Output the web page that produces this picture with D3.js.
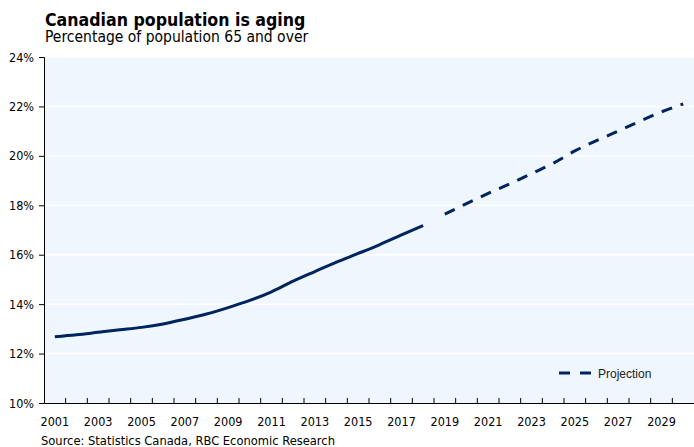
<!DOCTYPE html>
<html>
<head>
<meta charset="utf-8">
<script src="https://cdn.jsdelivr.net/npm/d3@7"></script>
<style>
  body { margin: 0; background: #fff; }
  svg { display: block; }
  text { font-family: "DejaVu Sans Condensed", "DejaVu Sans", sans-serif; font-stretch: condensed; fill: #000; }
</style>
</head>
<body>
<svg id="chart" width="694" height="447"></svg>
<script>
// history (share of population 65+, %)
const histYears = [2001, 2002, 2003, 2004, 2005, 2006, 2007, 2008, 2009, 2010,
                   2011, 2012, 2013, 2014, 2015, 2016, 2017, 2018];
const histValues = [12.68, 12.76, 12.86, 12.96, 13.06, 13.2, 13.39, 13.6, 13.86, 14.15,
                    14.5, 14.93, 15.32, 15.7, 16.05, 16.41, 16.8, 17.18];

// projection
const projYears = [2019, 2020, 2021, 2022, 2023, 2024, 2025, 2026, 2027, 2028, 2029, 2030];
const projValues = [17.64, 18.07, 18.48, 18.87, 19.28, 19.7, 20.2, 20.62, 21.0, 21.4, 21.78, 22.1];

const allYears = d3.range(2001, 2031);
const yTicks = [10, 12, 14, 16, 18, 20, 22, 24];

const navy = '#00245d';
const svg = d3.select('#chart');

const x = d3.scaleBand()
  .domain(allYears)
  .range([44, 694]);

const y = d3.scaleLinear()
  .domain([10, 24])
  .range([403, 57]);

// plot background
svg.append('rect')
  .attr('x', 44)
  .attr('y', y(24))
  .attr('width', 650)
  .attr('height', y(10) - y(24))
  .style('fill', '#eff6fe');

// grid
svg.append('g')
  .selectAll('line')
  .data(yTicks.slice(1))
  .enter()
  .append('line')
  .attr('x1', 45)
  .attr('x2', 694)
  .attr('y1', d => y(d))
  .attr('y2', d => y(d))
  .style('stroke', '#fff')
  .style('stroke-width', 1.5);

// y axis
const yAxis = svg.append('g')
  .attr('transform', 'translate(44,0)')
  .call(d3.axisLeft(y).tickValues(yTicks).tickSize(5).tickPadding(5).tickFormat(d => d + '%'));
yAxis.selectAll('text').style('font-size', '12.5px').style('font-family', null);
yAxis.selectAll('line, path').style('stroke', '#000');

// x axis
const xAxis = svg.append('g')
  .attr('transform', `translate(0,${y(10)})`)
  .call(d3.axisBottom(x).tickSize(0).tickPadding(14)
    .tickFormat(d => (d - 2001) % 2 === 0 ? d : ''));
xAxis.select('.domain').style('stroke', '#000');
xAxis.selectAll('text').style('font-size', '12.5px').style('font-family', null);

// year separators (inner ticks)
xAxis.append('g')
  .selectAll('line')
  .data(allYears.slice(1))
  .enter()
  .append('line')
  .attr('x1', d => x(d))
  .attr('x2', d => x(d))
  .attr('y1', 0)
  .attr('y2', -5)
  .style('stroke', '#000');

const line = d3.line()
  .x(d => x(d[0]) + x.bandwidth() / 2)
  .y(d => y(d[1]))
  .curve(d3.curveMonotoneX);

svg.append('path')
  .attr('d', line(d3.zip(histYears, histValues)))
  .style('fill', 'none')
  .style('stroke', navy)
  .style('stroke-width', 3);

svg.append('path')
  .attr('d', line(d3.zip(projYears, projValues)))
  .style('fill', 'none')
  .style('stroke', navy)
  .style('stroke-width', 3)
  .style('stroke-dasharray', '11,9');

// legend
const legend = svg.append('g').attr('transform', 'translate(559,373)');
legend.append('line')
  .attr('x1', 0).attr('x2', 32)
  .style('stroke', navy)
  .style('stroke-width', 3)
  .style('stroke-dasharray', '11,10');
legend.append('text')
  .attr('x', 39)
  .attr('y', 5)
  .text('Projection')
  .style('font-family', '"Liberation Sans", Arial, sans-serif')
  .style('font-stretch', 'normal')
  .style('font-size', '12px')
  .style('fill', '#222');

// titles
svg.append('text')
  .attr('x', 45).attr('y', 26)
  .text('Canadian population is aging')
  .style('font-weight', 'bold')
  .style('font-size', '17.6px');

svg.append('text')
  .attr('x', 45).attr('y', 42)
  .text('Percentage of population 65 and over')
  .style('font-size', '15.5px');

svg.append('text')
  .attr('x', 41).attr('y', 445)
  .text('Source: Statistics Canada, RBC Economic Research')
  .style('font-size', '12.8px');
</script>
</body>
</html>
